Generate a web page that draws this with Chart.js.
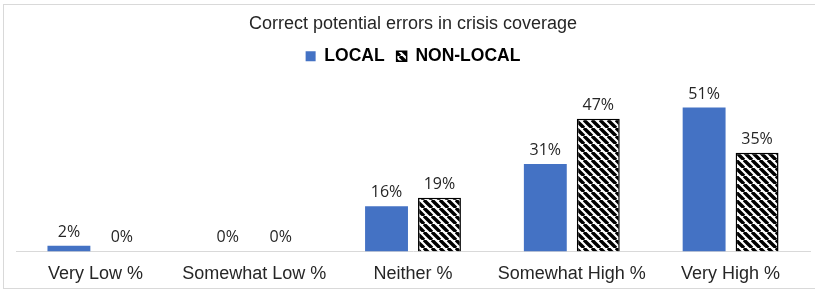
<!DOCTYPE html>
<html>
<head>
<meta charset="utf-8">
<script src="https://cdn.jsdelivr.net/npm/chart.js@4"></script>
<style>
  html, body { margin: 0; padding: 0; background: #fff; }
  #wrap { width: 815px; height: 291px; }
</style>
</head>
<body>
<div id="wrap"><canvas id="barChart"></canvas></div>
<script>
var categories = ['Very Low %', 'Somewhat Low %', 'Neither %', 'Somewhat High %', 'Very High %'];
var localValues = [2, 0, 16, 31, 51];
var nonLocalValues = [0, 0, 19, 47, 35];
var chartTitle = 'Correct potential errors in crisis coverage';

function hatchPattern() {
    var c = document.createElement('canvas');
    c.width = 8; c.height = 8;
    var g = c.getContext('2d');
    g.fillStyle = '#fff';
    g.fillRect(0, 0, 8, 8);
    g.strokeStyle = '#000';
    g.lineWidth = 3.4;
    g.beginPath();
    g.moveTo(0, 0); g.lineTo(8, 8);
    g.moveTo(-8, 0); g.lineTo(0, 8);
    g.moveTo(8, 0); g.lineTo(16, 8);
    g.stroke();
    return g.createPattern(c, 'repeat');
}

// frame around the whole chart
var framePlugin = {
    id: 'frame',
    beforeDraw(chart) {
        var ctx = chart.ctx;
        ctx.save();
        ctx.strokeStyle = '#d9d9d9';
        ctx.lineWidth = 1;
        ctx.strokeRect(3.5, 4.5, 820, 284);
        ctx.restore();
    }
};

// value labels above bars
var labelPlugin = {
    id: 'valueLabels',
    afterDatasetsDraw(chart) {
        var ctx = chart.ctx;
        ctx.save();
        ctx.font = '16px "Open Sans", sans-serif';
        ctx.fillStyle = '#262626';
        ctx.textAlign = 'center';
        ctx.textBaseline = 'alphabetic';
        chart.data.datasets.forEach(function (ds, i) {
            chart.getDatasetMeta(i).data.forEach(function (bar, j) {
                ctx.fillText(ds.data[j] + '%', bar.x, bar.y - 9);
            });
        });
        ctx.restore();
    }
};

var ctx = document.getElementById('barChart').getContext('2d');
var chart = new Chart(ctx, {
    type: 'bar',
    data: {
        labels: categories,
        datasets: [
            {
                label: 'LOCAL',
                data: localValues,
                backgroundColor: '#4472c4',
                borderWidth: 0
            },
            {
                label: 'NON-LOCAL',
                data: nonLocalValues,
                backgroundColor: hatchPattern(),
                borderColor: '#000',
                borderWidth: 1.5
            }
        ]
    },
    options: {
        responsive: true,
        maintainAspectRatio: false,
        animation: false,
        layout: { padding: { left: 16, right: 5, top: 10, bottom: 2 } },
        datasets: {
            bar: { categoryPercentage: 0.667, barPercentage: 0.81 }
        },
        plugins: {
            title: {
                display: true,
                text: chartTitle,
                color: '#262626',
                font: { family: '"Liberation Sans", Arial', size: 18, weight: 'normal' },
                padding: { top: 3, bottom: 1 }
            },
            legend: {
                labels: {
                    boxWidth: 10,
                    boxHeight: 10,
                    color: '#000',
                    font: { family: '"Liberation Sans", Arial', size: 17.5, weight: 'bold' },
                    padding: 12
                }
            },
            tooltip: { enabled: false }
        },
        scales: {
            x: {
                grid: { display: false },
                border: { display: true, color: '#d9d9d9' },
                ticks: {
                    color: '#262626',
                    font: { family: '"Liberation Sans", Arial', size: 18 },
                    padding: 4
                }
            },
            y: {
                display: false,
                min: 0,
                max: 62.5
            }
        }
    },
    plugins: [framePlugin, labelPlugin]
});
</script>
</body>
</html>
